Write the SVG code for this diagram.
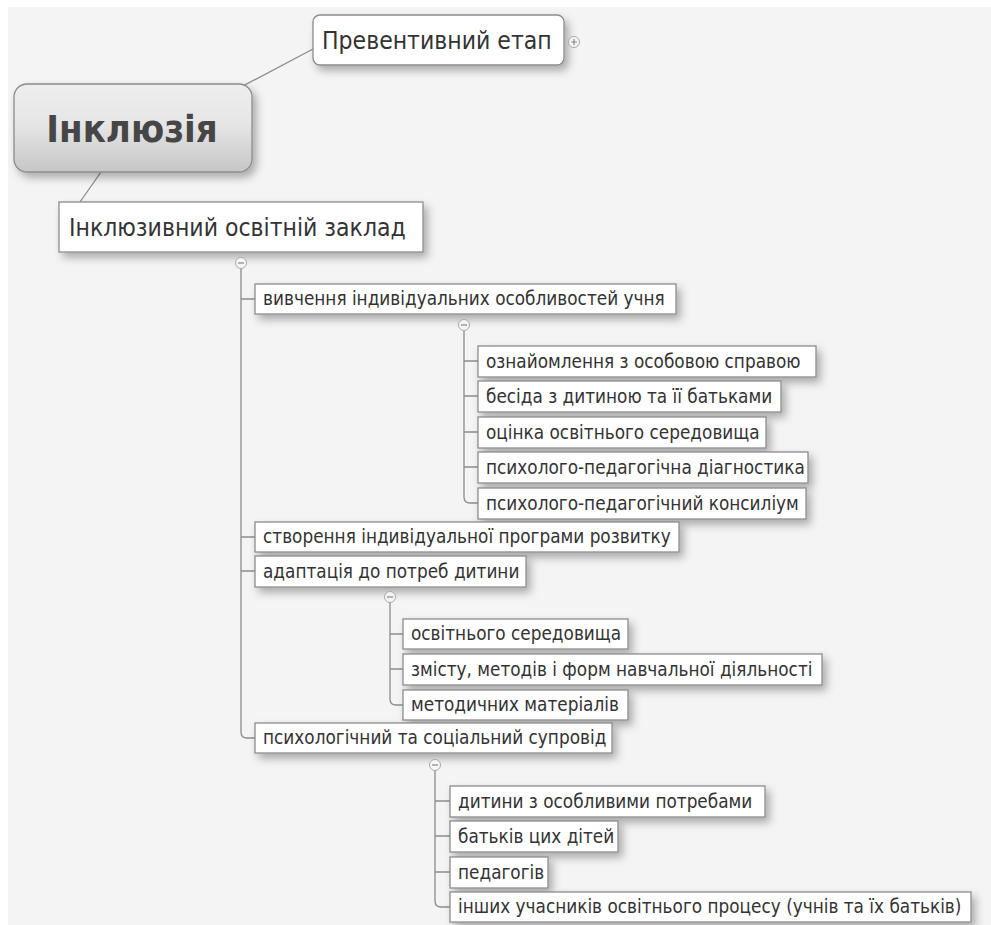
<svg xmlns="http://www.w3.org/2000/svg" width="991" height="925" viewBox="0 0 991 925">
<defs>
<filter id="sh" x="-10%" y="-30%" width="130%" height="190%">
<feDropShadow dx="4" dy="5" stdDeviation="4" flood-color="#000" flood-opacity="0.3"/>
</filter>
<linearGradient id="g" x1="0" y1="0" x2="0" y2="1">
<stop offset="0" stop-color="#eeeeee"/>
<stop offset="0.45" stop-color="#e6e6e6"/>
<stop offset="1" stop-color="#c6c6c6"/>
</linearGradient>
<style>
.box{fill:#fff;stroke:#8c8c8c;stroke-width:1.3;filter:url(#sh)}
.t{font-family:"DejaVu Sans Condensed","DejaVu Sans",sans-serif;font-stretch:condensed;fill:#333;font-size:18.8px}
.big{font-size:24.5px}
.ln{fill:none;stroke:#8c8c8c;stroke-width:1.3}
.tg{fill:#f6f6f6;stroke:#aaaaaa;stroke-width:1}
.tgs{stroke:#888;stroke-width:1.2}
</style>
</defs>
<rect x="0" y="0" width="991" height="925" fill="#ffffff"/>
<rect x="8" y="7" width="983" height="918" fill="#f4f4f4"/>

<g id="connectors">
<line class="ln" x1="224" y1="96" x2="313" y2="49"/>
<line class="ln" x1="101" y1="172" x2="80" y2="202"/>
<path class="ln" d="M241 268 V732 Q241 738 247 738 H255"/>
<path class="ln" d="M241 299 H255 M241 537 H255 M241 571 H255"/>
<path class="ln" d="M464 330 V497 Q464 503 470 503 H478 M464 361 H478 M464 396 H478 M464 432 H478 M464 467 H478"/>
<path class="ln" d="M390 602 V699 Q390 705 396 705 H403 M390 634 H403 M390 669 H403"/>
<path class="ln" d="M435 770 V901 Q435 907 441 907 H450 M435 801 H450 M435 836 H450 M435 872 H450"/>
</g>

<g id="n-preventive">
<rect class="box" x="313" y="15" width="251" height="50" rx="7"/>
<text class="t big" x="322" y="49">Превентивний етап</text>
<circle class="tg" cx="574" cy="42" r="5.5"/>
<path class="tgs" d="M571 42 H577 M574 39 V45"/>
</g>

<g id="n-root">
<rect x="14" y="84" width="238" height="88" rx="13" fill="url(#g)" stroke="#8c8c8c" stroke-width="1.3" filter="url(#sh)"/>
<text x="132" y="142" text-anchor="middle" font-family="DejaVu Sans Condensed, DejaVu Sans, sans-serif" font-stretch="condensed" font-weight="bold" font-size="38" fill="#464646">Інклюзія</text>
</g>

<g id="n-school">
<rect class="box" x="59" y="202" width="364" height="50"/>
<text class="t big" x="69" y="236">Інклюзивний освітній заклад</text>
<circle class="tg" cx="241" cy="263" r="5.5"/>
<path class="tgs" d="M238 263 H244"/>
</g>

<g id="n-study">
<rect class="box" x="255" y="284" width="421" height="30"/>
<text class="t" x="263" y="305">вивчення індивідуальних особливостей учня</text>
<circle class="tg" cx="464" cy="325" r="5.5"/>
<path class="tgs" d="M461 325 H467"/>
</g>
<g id="n-s1"><rect class="box" x="478" y="346" width="338" height="31"/><text class="t" x="486" y="368">ознайомлення з особовою справою</text></g>
<g id="n-s2"><rect class="box" x="478" y="381" width="303" height="31"/><text class="t" x="486" y="403">бесіда з дитиною та її батьками</text></g>
<g id="n-s3"><rect class="box" x="478" y="417" width="288" height="31"/><text class="t" x="486" y="439">оцінка освітнього середовища</text></g>
<g id="n-s4"><rect class="box" x="478" y="452" width="330" height="31"/><text class="t" x="486" y="474">психолого-педагогічна діагностика</text></g>
<g id="n-s5"><rect class="box" x="478" y="488" width="328" height="31"/><text class="t" x="486" y="510">психолого-педагогічний консиліум</text></g>

<g id="n-program">
<rect class="box" x="255" y="522" width="424" height="30"/>
<text class="t" x="263" y="543">створення індивідуальної програми розвитку</text>
</g>

<g id="n-adapt">
<rect class="box" x="255" y="556" width="271" height="31"/>
<text class="t" x="263" y="578">адаптація до потреб дитини</text>
<circle class="tg" cx="390" cy="597" r="5.5"/>
<path class="tgs" d="M387 597 H393"/>
</g>
<g id="n-a1"><rect class="box" x="403" y="619" width="225" height="30"/><text class="t" x="411" y="640">освітнього середовища</text></g>
<g id="n-a2"><rect class="box" x="403" y="654" width="419" height="31"/><text class="t" x="411" y="676">змісту, методів і форм навчальної діяльності</text></g>
<g id="n-a3"><rect class="box" x="403" y="690" width="225" height="30"/><text class="t" x="411" y="711">методичних матеріалів</text></g>

<g id="n-support">
<rect class="box" x="255" y="723" width="357" height="30"/>
<text class="t" x="263" y="744">психологічний та соціальний супровід</text>
<circle class="tg" cx="435" cy="765" r="5.5"/>
<path class="tgs" d="M432 765 H438"/>
</g>
<g id="n-c1"><rect class="box" x="450" y="786" width="315" height="31"/><text class="t" x="458" y="808">дитини з особливими потребами</text></g>
<g id="n-c2"><rect class="box" x="450" y="821" width="168" height="31"/><text class="t" x="458" y="843">батьків цих дітей</text></g>
<g id="n-c3"><rect class="box" x="450" y="857" width="98" height="31"/><text class="t" x="458" y="879">педагогів</text></g>
<g id="n-c4"><rect class="box" x="450" y="892" width="521" height="30"/><text class="t" x="458" y="913">інших учасників освітнього процесу (учнів та їх батьків)</text></g>
</svg>
